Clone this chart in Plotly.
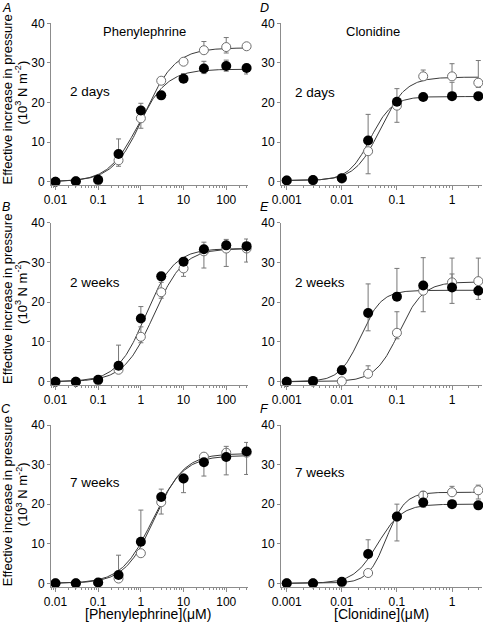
import numpy as np
import plotly.graph_objects as go

W, H = 483, 622

# ---------------- data ----------------
pe_conc = [0.01, 0.03, 0.1, 0.3, 1, 3, 10, 30, 100, 300]
cl_conc = [0.001, 0.003, 0.01, 0.03, 0.1, 0.3, 1, 3]

# Panel A  phenylephrine 2 days
A_filled = [0.0, 0.1, 0.5, 7.0, 18.0, 21.8, 26.0, 28.6, 29.2, 28.7]
A_filled_up = [0, 0, 0, 3.8, 1.8, 0, 1.3, 1.8, 1.5, 0]
A_filled_dn = [0, 0, 0, 0, 0, 0, 0, 1.3, 1.3, 1.5]
A_open = [0.0, 0.1, 0.3, 5.4, 16.0, 25.5, 30.3, 33.2, 34.0, 34.2]
A_open_up = [0, 0, 0, 0, 0, 0, 0, 2.2, 2.4, 0]
A_open_dn = [0, 0, 0, 1.5, 2.5, 0, 0, 0, 1.5, 0]

# Panel B  phenylephrine 2 weeks
B_filled = [0.0, 0.0, 0.5, 4.0, 15.9, 26.5, 30.2, 33.3, 34.3, 34.1]
B_filled_up = [0, 0, 0, 5.2, 3.0, 0, 0, 1.8, 1.5, 1.8]
B_filled_dn = [0, 0, 0, 0, 0, 0, 0, 0, 0, 4.0]
B_open = [0.0, 0.0, 0.3, 3.0, 11.3, 22.5, 28.5, 32.8, 33.5, 33.5]
B_open_up = [0, 0, 0, 0, 2.5, 2.5, 0, 0, 0, 0]
B_open_dn = [0, 0, 0, 0, 1.5, 1.5, 2.0, 4.2, 4.5, 0]

# Panel C  phenylephrine 7 weeks
C_filled = [0.0, 0.0, 0.2, 2.1, 10.5, 21.8, 26.5, 30.6, 31.9, 33.3]
C_filled_up = [0, 0, 0, 5.0, 8.0, 2.0, 0, 0, 2.7, 2.3]
C_filled_dn = [0, 0, 0, 0, 0, 0, 3.6, 3.5, 4.5, 5.8]
C_open = [0.0, 0.0, 0.1, 1.2, 7.6, 20.5, 26.5, 32.0, 33.0, 33.0]
C_open_up = [0, 0, 0, 0, 0, 0, 0, 0, 0, 0]
C_open_dn = [0, 0, 0, 0, 0, 3.0, 0, 0, 0, 0]

# Panel D  clonidine 2 days
D_filled = [0.3, 0.4, 0.9, 10.4, 20.2, 21.4, 21.6, 21.6]
D_filled_up = [0, 0, 0, 6.6, 3.3, 0, 3.5, 0]
D_filled_dn = [0, 0, 0, 0, 0, 0, 0, 0]
D_open = [0.3, 0.4, 0.8, 7.7, 19.2, 26.6, 26.6, 25.0]
D_open_up = [0, 0, 0, 0, 0, 1.6, 3.2, 5.6]
D_open_dn = [0, 0, 0, 5.7, 4.2, 0, 0, 1.2]

# Panel E  clonidine 2 weeks
E_filled = [0.0, 0.2, 2.9, 17.3, 21.4, 24.2, 23.7, 22.9]
E_filled_up = [0, 0, 1.1, 7.3, 7.1, 7.0, 7.4, 0]
E_filled_dn = [0, 0, 0, 4.5, 0, 0, 4.0, 2.2]
E_open = [0.0, 0.0, 0.1, 2.0, 12.3, 22.9, 25.0, 25.3]
E_open_up = [0, 0, 0, 2.0, 5.3, 0, 2.1, 5.8]
E_open_dn = [0, 0, 0, 0, 1.5, 5.3, 0, 0]

# Panel F  clonidine 7 weeks
F_filled = [0.0, 0.0, 0.4, 7.4, 16.9, 20.4, 20.0, 19.7]
F_filled_up = [0, 0, 0, 3.6, 3.1, 2.8, 0, 0]
F_filled_dn = [0, 0, 0, 0, 6.2, 0, 0, 0]
F_open = [0.0, 0.0, 0.2, 2.6, 16.8, 22.2, 23.0, 23.5]
F_open_up = [0, 0, 0, 0, 0, 0, 1.5, 1.3]
F_open_dn = [0, 0, 0, 0, 0, 3.0, 0, 2.2]

# fitted sigmoid (Hill) parameters: [bottom, top, EC50, slope]
A_fit_filled = [0.0, 28.4, 0.85, 1.25]
A_fit_open = [0.0, 33.8, 1.2, 1.2]
B_fit_filled = [0.0, 33.5, 1.3, 1.3]
B_fit_open = [0.0, 33.5, 2.0, 1.25]
C_fit_filled = [0.0, 32.3, 1.9, 1.2]
C_fit_open = [0.0, 32.8, 2.1, 1.25]
D_fit_filled = [0.3, 21.5, 0.033, 2.2]
D_fit_open = [0.3, 26.4, 0.05, 1.9]
E_fit_filled = [0.0, 23.0, 0.022, 2.3]
E_fit_open = [0.0, 25.1, 0.11, 2.0]
F_fit_filled = [0.0, 20.0, 0.045, 2.0]
F_fit_open = [0.0, 23.0, 0.065, 2.6]

y_ticks = [0, 10, 20, 30, 40]
pe_ticks = [0.01, 0.1, 1, 10, 100]
pe_ticktext = ["0.01", "0.1", "1", "10", "100"]
cl_ticks = [0.001, 0.01, 0.1, 1]
cl_ticktext = ["0.001", "0.01", "0.1", "1"]

labels_time = ["2 days", "2 weeks", "7 weeks"]
letters_left = ["A", "B", "C"]
letters_right = ["D", "E", "F"]

# ---------------- layout geometry (pixels) ----------------
row_top = [23.3, 222.7, 425.0]       # pixel y of value 40
row_zero = [181.7, 381.7, 583.3]     # pixel y of value 0
YMIN = -0.85
col_px = [(51, 248), (281, 481.5)]
col_range = [(-2.105, 2.51), (-3.104, 0.535)]

FONT = "Liberation Sans, Arial, Helvetica, sans-serif"
AX = "#8c8c8c"
ERR = "#777777"
CURVE = "#3a3a3a"


def hill(x, p):
    b, t, ec, n = p
    x = np.asarray(x, dtype=float)
    return b + (t - b) / (1.0 + (ec / x) ** n)


fig = go.Figure()
panels = [
    (0, 0, pe_conc, A_open, A_open_up, A_open_dn, A_filled, A_filled_up, A_filled_dn, A_fit_open, A_fit_filled),
    (1, 0, pe_conc, B_open, B_open_up, B_open_dn, B_filled, B_filled_up, B_filled_dn, B_fit_open, B_fit_filled),
    (2, 0, pe_conc, C_open, C_open_up, C_open_dn, C_filled, C_filled_up, C_filled_dn, C_fit_open, C_fit_filled),
    (0, 1, cl_conc, D_open, D_open_up, D_open_dn, D_filled, D_filled_up, D_filled_dn, D_fit_open, D_fit_filled),
    (1, 1, cl_conc, E_open, E_open_up, E_open_dn, E_filled, E_filled_up, E_filled_dn, E_fit_open, E_fit_filled),
    (2, 1, cl_conc, F_open, F_open_up, F_open_dn, F_filled, F_filled_up, F_filled_dn, F_fit_open, F_fit_filled),
]

layout_axes = {}
for i, (r, c, conc, yo, yo_up, yo_dn, yf, yf_up, yf_dn, p_o, p_f) in enumerate(panels):
    k = i + 1
    xa = "x" if k == 1 else f"x{k}"
    ya = "y" if k == 1 else f"y{k}"
    xs = np.logspace(np.log10(conc[0]), np.log10(conc[-1]), 200)
    for p in (p_o, p_f):
        fig.add_trace(go.Scatter(x=xs, y=hill(xs, p), mode="lines",
                                 line=dict(color=CURVE, width=1), xaxis=xa, yaxis=ya,
                                 showlegend=False, hoverinfo="skip"))
    fig.add_trace(go.Scatter(x=conc, y=yo, mode="markers", xaxis=xa, yaxis=ya, showlegend=False,
                             cliponaxis=False,
                             marker=dict(size=9, color="white", line=dict(color="#6e6e6e", width=1)),
                             error_y=dict(type="data", symmetric=False, array=yo_up, arrayminus=yo_dn,
                                          color=ERR, thickness=1, width=2.5)))
    fig.add_trace(go.Scatter(x=conc, y=yf, mode="markers", xaxis=xa, yaxis=ya, showlegend=False,
                             cliponaxis=False,
                             marker=dict(size=10, color="black", line=dict(color="black", width=0)),
                             error_y=dict(type="data", symmetric=False, array=yf_up, arrayminus=yf_dn,
                                          color=ERR, thickness=1, width=2.5)))

    x0, x1 = col_px[c]
    top = row_top[r]
    zero = row_zero[r]
    bot = zero + (-YMIN) * (zero - top) / 40.0
    if c == 0:
        tv, tt = pe_ticks, pe_ticktext
        lo, hi = -2, 2
    else:
        tv, tt = cl_ticks, cl_ticktext
        lo, hi = -3, 0
    minor_vals = [m * 10.0 ** e for e in range(lo - 1, hi + 1) for m in range(2, 10)]
    layout_axes["xaxis" if k == 1 else f"xaxis{k}"] = dict(
        type="log", range=list(col_range[c]), domain=[x0 / W, x1 / W],
        anchor=ya, tickmode="array", tickvals=tv, ticktext=tt, automargin=False,
        ticks="outside", ticklen=4, tickcolor=AX, tickwidth=1,
        showline=True, linecolor=AX, linewidth=1, showgrid=False, zeroline=False,
        tickfont=dict(family=FONT, size=12, color="black"),
        minor=dict(tickmode="array", tickvals=minor_vals, ticks="outside", ticklen=2,
                   tickcolor=AX, tickwidth=1, showgrid=False),
    )
    layout_axes["yaxis" if k == 1 else f"yaxis{k}"] = dict(
        range=[YMIN, 40], domain=[1 - bot / H, 1 - top / H], anchor=xa, automargin=False,
        tickmode="array", tickvals=y_ticks, ticks="outside", ticklen=3, tickcolor=AX,
        showline=True, linecolor=AX, linewidth=1, showgrid=False, zeroline=False,
        tickfont=dict(family=FONT, size=12, color="black"),
    )

fig.update_layout(**layout_axes)

ann = []


def txt(x, y, s, size=13, italic=False, angle=0, xanchor="center"):
    ann.append(dict(x=x / W, y=1 - y / H, xref="paper", yref="paper", text=s, showarrow=False,
                    xanchor=xanchor, yanchor="middle", textangle=angle,
                    font=dict(family=FONT, size=size, color="black",
                              style="italic" if italic else "normal")))


offs = [0.0, 199.4, 401.7]
for r in range(3):
    o = offs[r]
    txt(7.5, 100 + o, "Effective increase in pressure", size=13, angle=-90)
    txt(21.5, 93 + o, "(10<sup>3</sup> N m<sup>-2</sup>)", size=13, angle=-90)
    txt(6, 7.5 + o, letters_left[r], size=12.5, italic=True)
    txt(264, 7.5 + o, letters_right[r], size=12.5, italic=True)

txt(68, 92, labels_time[0], size=13.5, xanchor="left")
txt(68, 282, labels_time[1], size=13.5, xanchor="left")
txt(68, 482, labels_time[2], size=13.5, xanchor="left")
txt(293, 93, labels_time[0], size=13.5, xanchor="left")
txt(293, 282, labels_time[1], size=13.5, xanchor="left")
txt(293, 473, labels_time[2], size=13.5, xanchor="left")

txt(144.5, 31, "Phenylephrine")
txt(372.5, 31, "Clonidine")
txt(147.5, 614, "[Phenylephrine](\u03bcM)", size=14)
txt(381, 614, "[Clonidine](\u03bcM)", size=14)

fig.update_layout(annotations=ann, width=W, height=H,
                  margin=dict(l=0, r=0, t=0, b=0, pad=0, autoexpand=False),
                  paper_bgcolor="white", plot_bgcolor="white",
                  font=dict(family=FONT, color="black"))

fig.write_html("out.html", config={"displayModeBar": False},
               post_script="document.body.style.margin='0';document.body.style.overflow='hidden';")
